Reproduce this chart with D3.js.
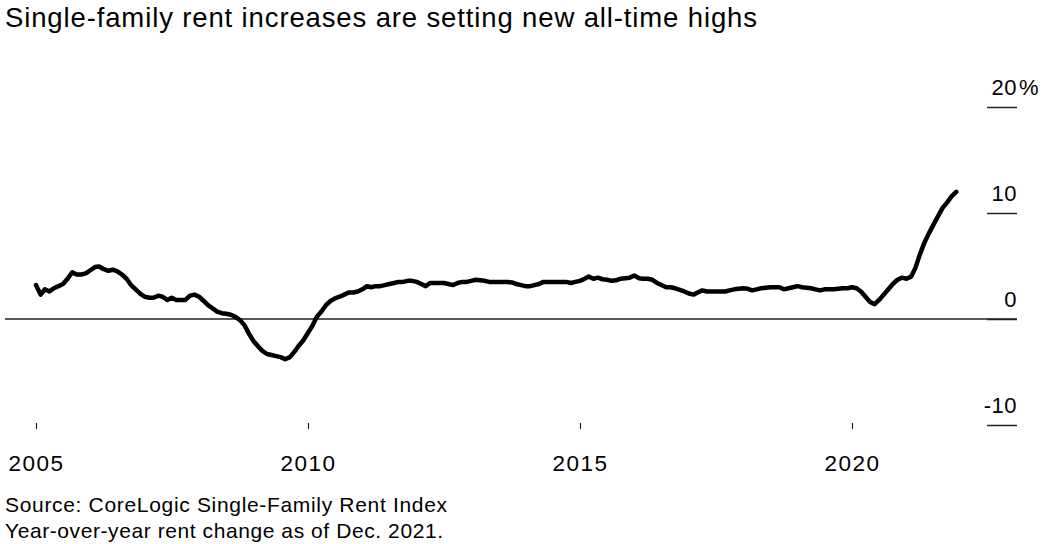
<!DOCTYPE html>
<html><head><meta charset="utf-8">
<script src="https://cdn.jsdelivr.net/npm/d3@7"></script>
<style>
body{margin:0;background:#fff;}
svg{display:block;font-family:"Liberation Sans",Arial,sans-serif;}
</style></head><body>
<svg id="chart" width="1044" height="544"></svg>
<script>
const titleText = "Single-family rent increases are setting new all-time highs";
const sourceLines = ["Source: CoreLogic Single-Family Rent Index", "Year-over-year rent change as of Dec. 2021."];
const firstYear = 2005;
// Monthly year-over-year change (%), Jan 2005 – Dec 2021
const rentChange = [
  3.2, 2.3, 2.8, 2.6, 2.9, 3.1, 3.3, 3.8, 4.4, 4.2, 4.2, 4.3,
  4.6, 4.9, 4.95, 4.7, 4.55, 4.65, 4.5, 4.2, 3.8, 3.2, 2.8, 2.4,
  2.1, 2.0, 2.0, 2.2, 2.1, 1.8, 2.0, 1.8, 1.8, 1.8, 2.2, 2.3,
  2.1, 1.7, 1.3, 1.0, 0.7, 0.55, 0.5, 0.4, 0.2, -0.1, -0.6, -1.4,
  -2.1, -2.6, -3.0, -3.3, -3.4, -3.5, -3.6, -3.8, -3.6, -3.1, -2.5, -2.0,
  -1.3, -0.6, 0.2, 0.7, 1.3, 1.7, 1.95, 2.1, 2.3, 2.5, 2.5, 2.6,
  2.8, 3.1, 3.0, 3.1, 3.1, 3.2, 3.3, 3.4, 3.5, 3.5, 3.6, 3.6,
  3.5, 3.3, 3.1, 3.4, 3.4, 3.4, 3.4, 3.3, 3.2, 3.4, 3.5, 3.5,
  3.6, 3.7, 3.65, 3.6, 3.5, 3.5, 3.5, 3.5, 3.5, 3.45, 3.3, 3.2,
  3.1, 3.1, 3.2, 3.3, 3.5, 3.5, 3.5, 3.5, 3.5, 3.5, 3.4, 3.5,
  3.6, 3.8, 4.0, 3.8, 3.9, 3.75, 3.7, 3.6, 3.65, 3.8, 3.85, 3.9,
  4.1, 3.85, 3.8, 3.8, 3.7, 3.4, 3.2, 3.0, 3.0, 2.9, 2.75, 2.6,
  2.4, 2.3, 2.5, 2.7, 2.6, 2.6, 2.6, 2.6, 2.6, 2.7, 2.8, 2.85,
  2.9, 2.85, 2.7, 2.8, 2.9, 2.95, 3.0, 3.0, 3.0, 2.8, 2.9, 3.0,
  3.1, 3.0, 2.95, 2.9, 2.8, 2.7, 2.8, 2.8, 2.8, 2.85, 2.9, 2.9,
  3.0, 2.9, 2.6, 2.1, 1.6, 1.4, 1.8, 2.3, 2.8, 3.3, 3.7, 3.9,
  3.8, 4.0, 4.8, 6.1, 7.2, 8.1, 8.9, 9.7, 10.5, 11.0, 11.6, 12.0
];
const xTickYears = [2005, 2010, 2015, 2020];
const yTickValues = [20, 10, 0, -10];
const yTickLabels = ["20", "10", "0", "-10"];
const yTickSuffix = ["%", "", "", ""];

const svg = d3.select("#chart");

const x = d3.scaleTime()
  .domain([new Date(2005, 0, 1), new Date(2020, 0, 1)])
  .range([36, 852]);
const y = d3.scaleLinear().domain([-10, 20]).range([425, 107]);

const data = rentChange.map((v, i) => ({date: new Date(firstYear, i, 1), value: v}));

// Title
svg.append("text")
  .attr("x", 5).attr("y", 27)
  .attr("font-size", 27.5)
  .attr("fill", "#000")
  .attr("textLength", 752).attr("lengthAdjust", "spacing")
  .text(titleText);

// Zero baseline
svg.append("line")
  .attr("x1", 5).attr("x2", 1017)
  .attr("y1", y(0)).attr("y2", y(0))
  .attr("stroke", "#222").attr("stroke-width", 1.5);

// Y ticks (right side)
const yAxis = d3.axisRight(y).tickValues(yTickValues).tickSize(30).tickFormat("");
const yg = svg.append("g").attr("transform", "translate(987,0)").call(yAxis);
yg.select(".domain").remove();
yg.selectAll(".tick line").attr("stroke", "#222").attr("stroke-width", 1.5);

const yLab = svg.append("g");
yTickValues.forEach((v, i) => {
  yLab.append("text")
    .attr("x", 1017).attr("y", y(v) - 12)
    .attr("text-anchor", "end")
    .attr("font-size", 22)
    .attr("letter-spacing", 0.5)
    .attr("fill", "#000")
    .text(yTickLabels[i]);
  if (yTickSuffix[i]) {
    yLab.append("text")
      .attr("x", 1019).attr("y", y(v) - 12)
      .attr("font-size", 22)
      .attr("fill", "#000")
      .text(yTickSuffix[i]);
  }
});

// X axis ticks
const xAxis = d3.axisBottom(x)
  .tickValues(xTickYears.map(yy => new Date(yy, 0, 1)))
  .tickSize(6).tickPadding(0)
  .tickFormat(d3.timeFormat("%Y"));
const xg = svg.append("g").attr("transform", "translate(0,423)").call(xAxis);
xg.select(".domain").remove();
xg.selectAll(".tick line").attr("stroke", "#222").attr("stroke-width", 1.2);
xg.selectAll(".tick text")
  .attr("y", 48).attr("dy", 0)
  .attr("font-size", 22.5)
  .attr("letter-spacing", 1.5)
  .attr("font-family", "Liberation Sans, Arial, sans-serif")
  .attr("fill", "#000");

// Line
const line = d3.line()
  .x(d => x(d.date))
  .y(d => y(d.value));
svg.append("path")
  .datum(data)
  .attr("d", line)
  .attr("fill", "none")
  .attr("stroke", "#000")
  .attr("stroke-width", 4.5)
  .attr("stroke-linejoin", "round")
  .attr("stroke-linecap", "round");

// Source notes
svg.append("text")
  .attr("x", 5).attr("y", 512)
  .attr("font-size", 21)
  .attr("fill", "#000")
  .attr("textLength", 442).attr("lengthAdjust", "spacing")
  .text(sourceLines[0]);
svg.append("text")
  .attr("x", 5).attr("y", 538)
  .attr("font-size", 21)
  .attr("fill", "#000")
  .attr("textLength", 438).attr("lengthAdjust", "spacing")
  .text(sourceLines[1]);
</script>
</body></html>
